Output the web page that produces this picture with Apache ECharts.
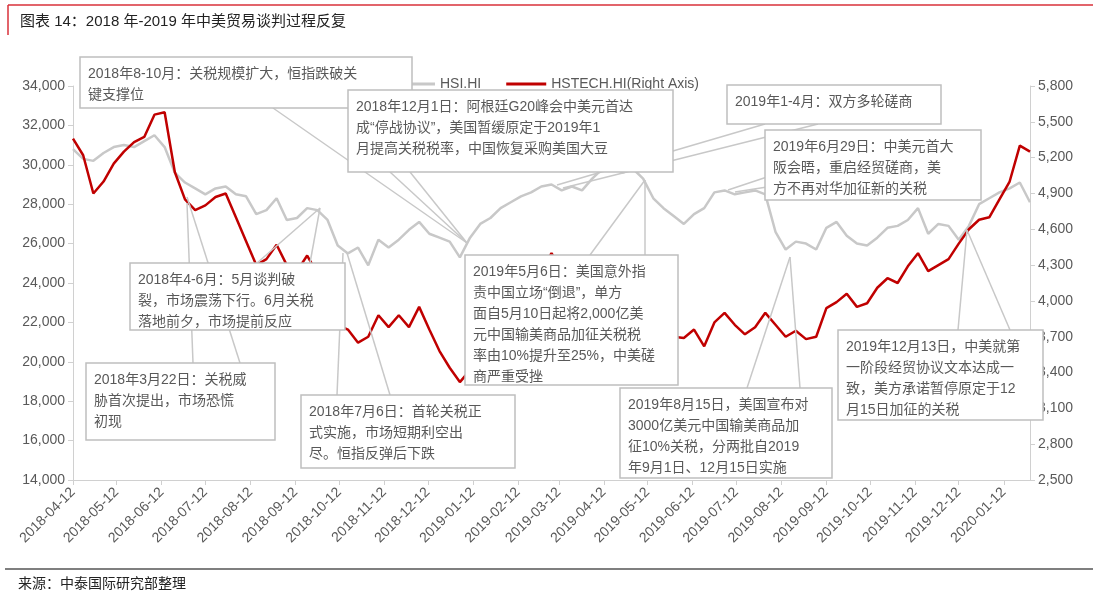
<!DOCTYPE html>
<html><head><meta charset="utf-8">
<script src="https://cdn.jsdelivr.net/npm/echarts@6/dist/echarts.min.js"></script>
<style>html,body{margin:0;padding:0;background:#fff}#c{width:1093px;height:599px}</style>
</head><body><div id="c"></div>
<script>
var startDate = '2018-04-12';
var hsiWeekly = [30800,30300,30200,30600,30900,31000,30900,31200,31500,30900,29600,29100,28800,28500,28800,28900,28500,28400,27500,27700,28300,27200,27300,27800,27700,27200,25900,25500,25800,24900,26200,25800,26200,26700,27100,26500,26300,26100,25300,26300,27000,27300,27800,28100,28400,28600,28900,29000,28700,28900,28700,29300,29800,29900,29600,29800,29300,28300,27800,27400,27000,27500,27800,28600,28700,28500,28600,28700,28500,26600,25700,26100,26000,25700,26800,27100,26400,26000,25900,26300,26800,26900,27200,27800,26500,27000,26900,26200,26900,28000,28300,28600,28800,29100,28100];
var hstechWeekly = [5360,5220,4900,5000,5150,5250,5330,5373,5560,5580,5080,4850,4760,4800,4870,4900,4700,4500,4300,4350,4470,4300,4250,4380,4230,3900,3800,3760,3650,3700,3880,3780,3880,3780,3950,3760,3580,3440,3320,3420,3550,3650,3780,3900,4050,4150,4250,4400,4250,4300,4250,4320,4330,4300,4280,4250,4100,3900,3780,3700,3690,3760,3620,3820,3900,3800,3720,3780,3900,3800,3700,3750,3680,3700,3940,3990,4060,3950,3980,4110,4190,4150,4290,4400,4250,4300,4350,4480,4600,4680,4700,4850,5000,5300,5250];
var leftTicks = {min:14000,max:34000,interval:2000};
var rightTicks = {min:2500,max:5800,interval:300};

function fmt(d){var m=d.getUTCMonth()+1,dd=d.getUTCDate();return d.getUTCFullYear()+'-'+(m<10?'0':'')+m+'-'+(dd<10?'0':'')+dd;}
var dates=[], t0=Date.parse(startDate+'T00:00:00Z'), nDays=(hsiWeekly.length-1)*7+1;
for(var i=0;i<nDays;i++){dates.push(fmt(new Date(t0+i*86400000)));}
var hsi=new Array(nDays).fill(null), hst=new Array(nDays).fill(null);
hsiWeekly.forEach(function(v,k){hsi[k*7]=v;});
hstechWeekly.forEach(function(v,k){hst[k*7]=v;});

var FONT='"Liberation Sans","Noto Sans CJK SC",sans-serif';
var GRAY='#595959';
function box(x,y,w,h,txt){
  return [{type:'rect',z:100,shape:{x:x,y:y,width:w,height:h},style:{fill:'#fff',stroke:'#bfbfbf',lineWidth:1.5}},
          {type:'text',z:101,x:x+8,y:y+7,style:{text:txt,fill:GRAY,font:'14px '+FONT,lineHeight:21}}];
}
function ln(x1,y1,x2,y2){return {type:'line',z:99,shape:{x1:x1,y1:y1,x2:x2,y2:y2},style:{stroke:'#c8c8c8',lineWidth:1.5}};}
var g=[
 {type:'line',shape:{x1:8,y1:5,x2:1093,y2:5},style:{stroke:'#d9303a',lineWidth:1.5}},
 {type:'line',shape:{x1:8,y1:5,x2:8,y2:35},style:{stroke:'#d9303a',lineWidth:1.5}},
 {type:'text',x:20,y:14,style:{text:'图表 14：2018 年-2019 年中美贸易谈判过程反复',fill:'#222',font:'15px '+FONT}},
 {type:'line',shape:{x1:5,y1:569,x2:1093,y2:569},style:{stroke:'#555',lineWidth:1.5}},
 {type:'text',x:18,y:577,style:{text:'来源：中泰国际研究部整理',fill:'#222',font:'14px '+FONT}},
 ln(273,108,467,243), ln(390,172,467,243), ln(410,172,467,243),
 ln(765,124,557,185), ln(818,124,563,188),
 ln(767,177,728,190), ln(767,187,735,192),
 ln(257,263,320,208), ln(310,263,320,208),
 ln(193,363,187,203), ln(240,363,187,197),
 ln(337,395,343,253), ln(390,395,347,253),
 ln(590,255,645,180), ln(645,255,645,180),
 ln(747,388,790,257), ln(800,388,790,257),
 ln(958,330,967,230), ln(1010,330,967,230)
];
g=g.concat(
 box(80,57,332,51,'2018年8-10月：关税规模扩大，恒指跌破关\n键支撑位'),
 box(348,90,325,82,'2018年12月1日：阿根廷G20峰会中美元首达\n成“停战协议”，美国暂缓原定于2019年1\n月提高关税税率，中国恢复采购美国大豆'),
 box(727,85,214,39,'2019年1-4月：双方多轮磋商'),
 box(765,130,216,70,'2019年6月29日：中美元首大\n阪会晤，重启经贸磋商，美\n方不再对华加征新的关税'),
 box(130,263,215,67,'2018年4-6月：5月谈判破\n裂，市场震荡下行。6月关税\n落地前夕，市场提前反应'),
 box(86,363,189,77,'2018年3月22日：关税威\n胁首次提出，市场恐慌\n初现'),
 box(301,395,214,73,'2018年7月6日：首轮关税正\n式实施，市场短期利空出\n尽。恒指反弹后下跌'),
 box(465,255,213,130,'2019年5月6日：美国意外指\n责中国立场“倒退”，单方\n面自5月10日起将2,000亿美\n元中国输美商品加征关税税\n率由10%提升至25%，中美磋\n商严重受挫'),
 box(620,388,212,90,'2019年8月15日，美国宣布对\n3000亿美元中国输美商品加\n征10%关税，分两批自2019\n年9月1日、12月15日实施'),
 box(838,330,205,90,'2019年12月13日，中美就第\n一阶段经贸协议文本达成一\n致，美方承诺暂停原定于12\n月15日加征的关税')
);

var chart=echarts.init(document.getElementById('c'));
var axisLbl={color:GRAY,fontSize:14,fontFamily:FONT,formatter:function(v){return v.toLocaleString('en-US');}};
chart.setOption({
 animation:false,
 grid:{left:73,right:63,top:86,bottom:119,containLabel:false},
 legend:{top:72,left:390,itemWidth:40,itemHeight:3,icon:'rect',itemGap:25,textStyle:{color:GRAY,fontSize:14,fontFamily:FONT},data:['HSI.HI','HSTECH.HI(Right Axis)']},
 xAxis:{type:'category',data:dates,boundaryGap:false,
  axisLine:{lineStyle:{color:'#d0d0d0'}},
  axisTick:{alignWithLabel:true,interval:function(i,v){return v.slice(8)==='12';},lineStyle:{color:'#d0d0d0'}},
  axisLabel:{interval:function(i,v){return v.slice(8)==='12';},rotate:45,color:GRAY,fontSize:14,fontFamily:FONT,margin:10},
  splitLine:{show:false}},
 yAxis:[
  {type:'value',min:leftTicks.min,max:leftTicks.max,interval:leftTicks.interval,axisLine:{show:true,lineStyle:{color:'#d0d0d0'}},axisTick:{show:true,lineStyle:{color:'#d0d0d0'}},splitLine:{show:false},axisLabel:axisLbl},
  {type:'value',min:rightTicks.min,max:rightTicks.max,interval:rightTicks.interval,alignTicks:false,axisLine:{show:true,lineStyle:{color:'#d0d0d0'}},axisTick:{show:true,lineStyle:{color:'#d0d0d0'}},splitLine:{show:false},axisLabel:axisLbl}
 ],
 series:[
  {name:'HSI.HI',type:'line',data:hsi,connectNulls:true,showSymbol:false,lineStyle:{color:'#c8c8c8',width:2.5},itemStyle:{color:'#c8c8c8'},z:2},
  {name:'HSTECH.HI(Right Axis)',type:'line',yAxisIndex:1,data:hst,connectNulls:true,showSymbol:false,lineStyle:{color:'#c00000',width:2.5},itemStyle:{color:'#c00000'},z:3}
 ],
 graphic:g
});
</script></body></html>
